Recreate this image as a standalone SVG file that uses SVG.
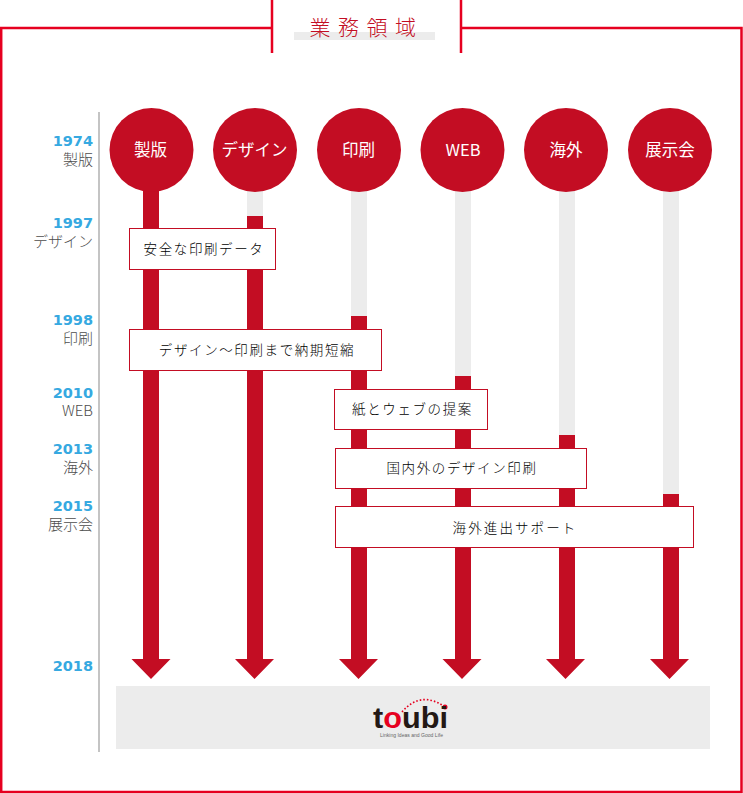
<svg xmlns="http://www.w3.org/2000/svg" width="743" height="794" viewBox="0 0 743 794">
<defs><style>
.jp{font-family:"Noto Sans CJK JP","Liberation Sans",sans-serif;font-weight:300}
.frame{fill:none;stroke:#e60020;stroke-width:2.500}
.track{fill:#ececec}
.flow{fill:#c30d23}
.circle{fill:#c30d23}
.ct{font-size:16.500px;fill:#fff;text-anchor:middle;font-weight:400}
.year{font-family:"DejaVu Sans",sans-serif;font-weight:bold;font-size:14.500px;fill:#36a9e1;text-anchor:end}
.sub{font-size:15px;fill:#4d4d4d;text-anchor:end}
.box{fill:#fff;stroke:#c30d23;stroke-width:1}
.bt{font-size:13.500px;fill:#000;text-anchor:middle;letter-spacing:1.600px}
</style></defs>
<rect width="743" height="794" fill="#fff"/>
<g id="frame">
<path class="frame" d="M272 0V53M461 0V53M272 28H1.200V792H741.500V28H461"/>
<rect x="294" y="32" width="141" height="8" fill="#ececec"/>
<text class="jp" x="309.500" y="35" font-size="21" fill="#c30d23" letter-spacing="7.500">業務領域</text>
</g>
<rect id="axis" x="98" y="112" width="2" height="640" fill="#c4c4c4"/>
<g id="connectors">
<rect class="track" x="247" y="190" width="16" height="30"/>
<rect class="track" x="351" y="190" width="16" height="130"/>
<rect class="track" x="455" y="190" width="16" height="190"/>
<rect class="track" x="559" y="190" width="16" height="250"/>
<rect class="track" x="663" y="190" width="16" height="310"/>
<path class="flow" d="M143 185H159V659H170.500L151 679L131.500 659H143Z"/>
<path class="flow" d="M247 216H263V659H274L254.500 679L235 659H247Z"/>
<path class="flow" d="M351 316H367V659H378L358.500 679L339 659H351Z"/>
<path class="flow" d="M455 376H471V659H481.500L462 679L442.500 659H455Z"/>
<path class="flow" d="M559 435H575V659H585L565.500 679L546 659H559Z"/>
<path class="flow" d="M663 494H679V659H689L669.500 679L650 659H663Z"/>
</g>
<g id="node-seihan"><circle class="circle" cx="151.500" cy="150" r="42"/><text class="jp ct" x="150.500" y="156">製版</text></g>
<g id="node-design"><circle class="circle" cx="255" cy="150" r="42"/><text class="jp ct" x="254.500" y="156">デザイン</text></g>
<g id="node-print"><circle class="circle" cx="359" cy="150" r="42"/><text class="jp ct" x="358.500" y="156">印刷</text></g>
<g id="node-web"><circle class="circle" cx="462.500" cy="150" r="42"/><text class="jp ct" x="463" y="156">WEB</text></g>
<g id="node-overseas"><circle class="circle" cx="566" cy="150" r="42"/><text class="jp ct" x="566" y="156">海外</text></g>
<g id="node-expo"><circle class="circle" cx="670" cy="150" r="42"/><text class="jp ct" x="670" y="156">展示会</text></g>
<g id="years">
<text class="year" x="93" y="145.500">1974</text><text class="jp sub" x="93" y="165">製版</text>
<text class="year" x="93" y="227.500">1997</text><text class="jp sub" x="93" y="247">デザイン</text>
<text class="year" x="93" y="324.500">1998</text><text class="jp sub" x="93" y="344">印刷</text>
<text class="year" x="93" y="397.500">2010</text><text class="jp sub" x="93" y="416">WEB</text>
<text class="year" x="93" y="453.500">2013</text><text class="jp sub" x="93" y="473">海外</text>
<text class="year" x="93" y="510.500">2015</text><text class="jp sub" x="93" y="530">展示会</text>
<text class="year" x="93" y="670.500">2018</text>
</g>
<g id="box-1"><rect class="box" x="129.500" y="228.500" width="146" height="41"/><text class="jp bt" x="204" y="254">安全な印刷データ</text></g>
<g id="box-2"><rect class="box" x="129.500" y="329.500" width="252" height="41"/><text class="jp bt" x="257" y="355">デザイン〜印刷まで納期短縮</text></g>
<g id="box-3"><rect class="box" x="334.500" y="389.500" width="153" height="40"/><text class="jp bt" x="412.500" y="414">紙とウェブの提案</text></g>
<g id="box-4"><rect class="box" x="335.500" y="448.500" width="251" height="40"/><text class="jp bt" x="462" y="473">国内外のデザイン印刷</text></g>
<g id="box-5"><rect class="box" x="335.500" y="506.500" width="358" height="41"/><text class="jp bt" x="515" y="533" style="letter-spacing:2.100px">海外進出サポート</text></g>
<g id="toubi">
<rect x="116" y="686" width="594" height="63" fill="#ececec"/>
<path d="M402 712Q421 690 445 707" fill="none" stroke="#e60020" stroke-width="1.600" stroke-dasharray="1.600 2"/>
<circle cx="445" cy="707" r="2.500" fill="#e60020"/>
<text x="373" y="728" font-family="'Liberation Sans',sans-serif" font-weight="bold" font-size="29" fill="#231815" textLength="75" lengthAdjust="spacingAndGlyphs">t<tspan fill="#e60020">o</tspan>ubi</text>
<text x="380" y="737" font-family="'Liberation Sans',sans-serif" font-size="5.500" fill="#666" textLength="63" lengthAdjust="spacingAndGlyphs">Linking Ideas and Good Life</text>
</g>
</svg>
